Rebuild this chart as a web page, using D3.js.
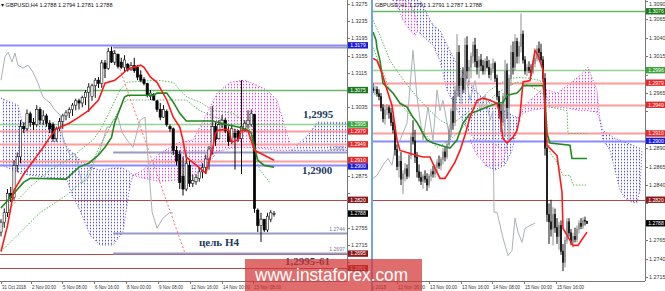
<!DOCTYPE html>
<html><head><meta charset="utf-8">
<script src="https://cdn.jsdelivr.net/npm/d3@7/dist/d3.min.js"></script>
<style>html,body{margin:0;padding:0;background:#fff;}svg{display:block;}</style>
</head><body>
<svg id="chart" width="665" height="291"></svg>
<script>
// ======================= DATA =======================
const h4Title = "GBPUSD,H4  1.2788 1.2794 1.2781 1.2788";
const h1Title = "GBPUSD,H1  1.2791 1.2791 1.2787 1.2788";

// H4 candles [open, high, low, close]
const h4Candles = [
[1.2745,1.2775,1.2735,1.2768],[1.2768,1.2800,1.2755,1.2790],[1.2790,1.2845,1.2780,1.2835],[1.2835,1.2850,1.2815,1.2825],
[1.2825,1.2912,1.2820,1.2900],[1.2900,1.2930,1.2885,1.2920],[1.2920,1.3005,1.2905,1.2990],[1.2990,1.3000,1.2975,1.2985],
[1.2985,1.3030,1.2980,1.3020],[1.3020,1.3025,1.2990,1.3000],[1.3000,1.3010,1.2982,1.2995],[1.2995,1.3040,1.2990,1.3030],
[1.3030,1.3035,1.2995,1.3005],[1.3005,1.3028,1.2994,1.3015],[1.3015,1.3020,1.2990,1.2998],[1.2998,1.3005,1.2975,1.2985],
[1.2995,1.3000,1.2955,1.2962],[1.2962,1.2990,1.2955,1.2985],[1.2985,1.3010,1.2980,1.3002],[1.3002,1.3020,1.2985,1.3015],
[1.3015,1.3028,1.3005,1.3022],[1.3022,1.3035,1.3010,1.3030],[1.3030,1.3045,1.3015,1.3040],[1.3040,1.3055,1.3028,1.3050],
[1.3050,1.3055,1.3030,1.3045],[1.3045,1.3062,1.3035,1.3058],[1.3058,1.3075,1.3040,1.3070],[1.3070,1.3091,1.3024,1.3082],
[1.3060,1.3090,1.3050,1.3085],[1.3085,1.3103,1.3057,1.3098],[1.3098,1.3105,1.3080,1.3090],[1.3090,1.3145,1.3080,1.3138],
[1.3138,1.3145,1.3103,1.3125],[1.3125,1.3173,1.3122,1.3165],[1.3165,1.3176,1.3138,1.3140],[1.3140,1.3168,1.3133,1.3160],
[1.3158,1.3160,1.3125,1.3130],[1.3140,1.3150,1.3124,1.3128],[1.3128,1.3156,1.3118,1.3145],[1.3135,1.3138,1.3118,1.3122],
[1.3122,1.3140,1.3120,1.3132],[1.3132,1.3150,1.3115,1.3120],[1.3128,1.3133,1.3098,1.3105],[1.3110,1.3121,1.3093,1.3098],
[1.3100,1.3105,1.3086,1.3090],[1.3090,1.3092,1.3058,1.3062],[1.3060,1.3075,1.3052,1.3068],[1.3065,1.3068,1.3050,1.3052],
[1.3050,1.3052,1.3024,1.3030],[1.3030,1.3045,1.3005,1.3012],[1.3012,1.3040,1.3010,1.3030],[1.3025,1.3030,1.2990,1.2995],
[1.2990,1.2995,1.2978,1.2985],[1.2985,1.2988,1.2924,1.2935],[1.2935,1.2945,1.2900,1.2910],[1.2925,1.2935,1.2845,1.2860],
[1.2875,1.2920,1.2830,1.2845],[1.2845,1.2925,1.2840,1.2905],[1.2900,1.2910,1.2850,1.2858],[1.2858,1.2878,1.2850,1.2865],
[1.2862,1.2880,1.2855,1.2872],[1.2870,1.2895,1.2862,1.2885],[1.2885,1.2905,1.2870,1.2895],[1.2895,1.2925,1.2880,1.2915],
[1.2915,1.2945,1.2890,1.2938],[1.2938,1.3038,1.2925,1.2990],[1.2990,1.3000,1.2945,1.2960],[1.2962,1.3005,1.2960,1.2995],
[1.2995,1.3017,1.2987,1.3005],[1.3005,1.3010,1.2975,1.2980],[1.2980,1.2990,1.2945,1.2955],[1.2955,1.2995,1.2950,1.2985],
[1.2975,1.2985,1.2890,1.2965],[1.2980,1.2982,1.2955,1.2962],[1.2962,1.3098,1.2880,1.2990],[1.2985,1.3005,1.2978,1.2998],
[1.2995,1.3028,1.2985,1.3005],[1.2995,1.3030,1.2990,1.3020],[1.3018,1.3020,1.2790,1.2800],[1.2796,1.2800,1.2745,1.2760],
[1.2760,1.2790,1.2722,1.2775],[1.2775,1.2775,1.2745,1.2750],[1.2750,1.2790,1.2745,1.2782],[1.2775,1.2796,1.2768,1.2790],
[1.2788,1.2794,1.2781,1.2788]
];
// H4 indicator lines [barIndex, price]
const h4Tenkan = [[0,1.2700],[2,1.2760],[4,1.2842],[7,1.2880],[13,1.2942],[15,1.2965],[17,1.2985],[21,1.2998],[24,1.3012],[27,1.3028],[30,1.3052],[32,1.3091],[35,1.3098],[37,1.3110],[39,1.3124],[43,1.3133],[44,1.3128],[46,1.3105],[48,1.3093],[51,1.3052],[53,1.3012],[55,1.2989],[56,1.2958],[57,1.2919],[59,1.2907],[61,1.2895],[63,1.2882],[65,1.2935],[66,1.2975],[67,1.2982],[70,1.2984],[71,1.2954],[73,1.2960],[74,1.2982],[76,1.2980],[78,1.2935],[84,1.2912]];
const h4Kijun = [[0,1.2801],[7,1.2861],[9,1.2870],[20,1.2868],[24,1.2896],[27,1.2905],[30,1.2924],[32,1.2942],[34,1.2965],[35,1.3000],[38,1.3059],[39,1.3063],[47,1.3063],[48,1.3068],[51,1.3068],[53,1.3047],[55,1.3021],[57,1.3003],[65,1.3003],[70,1.2994],[73,1.2989],[76,1.2982],[77,1.2975],[78,1.2942],[79,1.2912],[81,1.2900],[84,1.2896]];
const h4SpanA = [[0,1.2750],[3,1.2803],[9,1.2850],[15,1.2889],[22,1.2919],[24.3,1.2935],[28.3,1.2959],[30.5,1.2982],[32.6,1.3012],[36.6,1.3075],[38.8,1.3093],[48,1.3098],[53,1.3093],[55,1.3075],[57.2,1.3059],[61.2,1.3047],[65.2,1.3028],[71.4,1.3021],[75.7,1.2998],[77,1.2985],[77.5,1.2935],[79.7,1.2889],[82.8,1.2859]];
const h4SpanB = [[0,1.2700],[6,1.2745],[12,1.2790],[20,1.2830],[26,1.2870],[30.5,1.2947],[37.5,1.3045],[39,1.3052],[57,1.3052],[61,1.3028],[65,1.3015],[70,1.3000]];
const h4Chikou = [[0,1.3098],[1.2,1.3152],[2.2,1.3163],[3.4,1.3140],[4.3,1.3161],[5.2,1.3133],[6.8,1.3126],[8.3,1.3133],[9.8,1.3117],[11.4,1.3091],[12.9,1.3059],[15.1,1.3045],[16.6,1.3028],[18.2,1.3017],[19.1,1.2959],[21.2,1.2924],[22.8,1.2928],[24.9,1.2859],[26.8,1.2870],[28.9,1.2912],[30.5,1.2935],[32.6,1.2989],[33.5,1.2989],[34.5,1.3005],[36,1.3012],[37.2,1.2977],[38.8,1.2959],[40.6,1.2942],[42.8,1.3005],[44.3,1.3012],[44.9,1.2947],[46.5,1.2791],[48,1.2754],[49.8,1.2777],[52,1.2791],[52.9,1.2789]];
// H4 cloud pieces [barIndex, upper, lower]
const h4CloudBlue1 = [[0,1.3056,1.2901],[5.2,1.3040,1.2884],[6.5,1.3000,1.2880],[13.5,1.3000,1.2873],[18.2,1.2982,1.2868],[20.3,1.2942,1.2866],[21.8,1.2931,1.2831],[24.3,1.2912,1.2796],[27.4,1.2896,1.2738],[30.5,1.2889,1.2715],[34.5,1.2894,1.2715],[37.5,1.2894,1.2745],[39.7,1.2884,1.2854],[40.6,1.2877,1.2877]];
const h4CloudPink = [[40.6,1.2877,1.2877],[43.7,1.2889,1.2870],[48.9,1.2928,1.2863],[54.2,1.2952,1.2866],[59.1,1.2959,1.2877],[63.4,1.3021,1.2901],[66.5,1.3068,1.2931],[70.5,1.3093,1.2940],[75.1,1.3098,1.2942],[78.8,1.3086,1.2940],[81.8,1.3075,1.2938],[84.9,1.3052,1.2935],[86.8,1.3005,1.2935],[89.5,1.2935,1.2935]];
const h4CloudBlue2 = [[89.5,1.2935,1.2935],[92,1.2954,1.2935],[95.1,1.2975,1.2935],[97.2,1.3000,1.2935],[106.5,1.3000,1.2935]];
// H4 horizontal levels
const h4Levels = [1.3179, 1.3075, 1.2995, 1.2979, 1.2949, 1.2910, 1.2900, 1.2820, 1.2695, 1.2661];
const h4LevelKinds = ["blue","dkgreen","green","red","red","red","blue","dkred","dkred","dkred"];
const h4FibLevels = [1.3175, 1.2931, 1.2744, 1.2697];
const h4FibLabels = ["", "1.2931", "1.2744", "1.2697"];
const h4FibFrom = 34.5;
const h4TrendLine = [[34.5,1.3168],[56.6,1.2696]];
const h4LastPrice = 1.2788;
const h4PriceTicks = [1.3275,1.3235,1.3195,1.3155,1.3115,1.3075,1.3035,1.2995,1.2955,1.2915,1.2875,1.2835,1.2795,1.2755,1.2715,1.2675];
const h4TimeIdx = [0,9.23,18.77,28.6,38.46,48.3,58.15,68,77.54];
const h4TimeLabels = ["31 Oct 2018","2 Nov 00:00","5 Nov 08:00","6 Nov 16:00","8 Nov 00:00","9 Nov 08:00","12 Nov 16:00","14 Nov 00:00","15 Nov 08:00"];
const h4NoteTexts = ["1,2995","1,2900","цель H4","1,2995-61"];
const h4NoteAnchors = [[92.9,1.3010],[92.6,1.2880],[60.9,1.2712],[87.4,1.2668]];

// H1 candles [open, high, low, close]
const h1Candles = [
[1.2972,1.2978,1.2965,1.2968],[1.2968,1.2975,1.2962,1.2970],[1.2970,1.2974,1.2960,1.2964],[1.2964,1.2970,1.2955,1.2960],
[1.2960,1.2965,1.2940,1.2945],[1.2945,1.2950,1.2925,1.2930],[1.2930,1.2948,1.2922,1.2942],[1.2942,1.2950,1.2935,1.2945],
[1.2945,1.2948,1.2930,1.2938],[1.2938,1.2945,1.2920,1.2925],[1.2925,1.2935,1.2910,1.2915],[1.2915,1.2920,1.2880,1.2888],
[1.2888,1.2895,1.2860,1.2865],[1.2865,1.2880,1.2850,1.2872],[1.2872,1.2885,1.2840,1.2848],[1.2848,1.2860,1.2828,1.2855],
[1.2855,1.2870,1.2845,1.2862],[1.2862,1.2868,1.2848,1.2852],[1.2852,1.2885,1.2850,1.2880],[1.2880,1.2910,1.2875,1.2905],
[1.2905,1.2928,1.2895,1.2900],[1.2900,1.2915,1.2870,1.2878],[1.2878,1.2885,1.2850,1.2858],[1.2858,1.2868,1.2845,1.2850],
[1.2850,1.2858,1.2840,1.2845],[1.2845,1.2855,1.2835,1.2852],[1.2852,1.2860,1.2843,1.2848],[1.2848,1.2856,1.2832,1.2840],
[1.2840,1.2855,1.2836,1.2852],[1.2852,1.2862,1.2845,1.2858],[1.2858,1.2866,1.2850,1.2855],[1.2855,1.2868,1.2850,1.2864],
[1.2864,1.2875,1.2858,1.2870],[1.2870,1.2880,1.2862,1.2866],[1.2866,1.2878,1.2860,1.2875],[1.2875,1.2890,1.2868,1.2885],
[1.2885,1.2892,1.2872,1.2878],[1.2878,1.2900,1.2875,1.2895],[1.2895,1.2920,1.2890,1.2915],[1.2915,1.2945,1.2905,1.2940],
[1.2940,1.2960,1.2915,1.2925],[1.2925,1.2975,1.2920,1.2968],[1.2968,1.3045,1.2960,1.3020],[1.3020,1.3030,1.2960,1.2975],
[1.2975,1.2995,1.2950,1.2985],[1.2985,1.3000,1.2965,1.2970],[1.2970,1.3040,1.2965,1.3030],[1.3030,1.3042,1.2985,1.2995],
[1.2995,1.3010,1.2975,1.3000],[1.3000,1.3020,1.2985,1.3015],[1.3015,1.3035,1.3005,1.3030],[1.3030,1.3040,1.3000,1.3008],
[1.3008,1.3025,1.2990,1.3000],[1.3000,1.3015,1.2985,1.3010],[1.3010,1.3018,1.2995,1.3002],[1.3002,1.3010,1.2990,1.2995],
[1.2995,1.3012,1.2990,1.3008],[1.3008,1.3015,1.2998,1.3000],[1.3000,1.3010,1.2985,1.2990],[1.2990,1.3005,1.2982,1.2998],
[1.2998,1.3012,1.2992,1.3005],[1.3005,1.3008,1.2980,1.2985],[1.2985,1.2990,1.2955,1.2960],[1.2960,1.2968,1.2930,1.2940],
[1.2940,1.2950,1.2912,1.2925],[1.2925,1.2965,1.2920,1.2960],[1.2960,1.3010,1.2905,1.2995],[1.2995,1.3005,1.2930,1.2945],
[1.2945,1.2990,1.2900,1.2985],[1.2985,1.3030,1.2975,1.3020],[1.3020,1.3035,1.2990,1.3000],[1.3000,1.3045,1.2995,1.3035],
[1.3035,1.3040,1.3005,1.3015],[1.3015,1.3035,1.3005,1.3028],[1.3028,1.3073,1.3020,1.3045],[1.3045,1.3050,1.3005,1.3010],
[1.3010,1.3015,1.2990,1.2995],[1.2995,1.3005,1.2988,1.3000],[1.3000,1.3008,1.2992,1.2996],[1.2996,1.3004,1.2988,1.2993],
[1.2993,1.3010,1.2990,1.3005],[1.3005,1.3018,1.3000,1.3012],[1.3012,1.3030,1.3008,1.3025],[1.3025,1.3035,1.3010,1.3020],
[1.3020,1.3032,1.3005,1.3010],[1.3010,1.3015,1.2980,1.2985],[1.2985,1.2992,1.2880,1.2890],[1.2890,1.2895,1.2790,1.2800],
[1.2800,1.2815,1.2760,1.2790],[1.2790,1.2820,1.2770,1.2780],[1.2780,1.2810,1.2758,1.2800],[1.2800,1.2808,1.2775,1.2782],
[1.2782,1.2795,1.2760,1.2770],[1.2770,1.2790,1.2752,1.2785],[1.2785,1.2792,1.2745,1.2750],[1.2750,1.2760,1.2723,1.2735],
[1.2735,1.2770,1.2728,1.2765],[1.2765,1.2795,1.2760,1.2790],[1.2790,1.2795,1.2770,1.2775],[1.2775,1.2780,1.2758,1.2762],
[1.2762,1.2775,1.2755,1.2770],[1.2770,1.2782,1.2762,1.2766],[1.2766,1.2785,1.2762,1.2780],[1.2780,1.2792,1.2774,1.2788],
[1.2788,1.2795,1.2780,1.2784],[1.2784,1.2796,1.2780,1.2792],[1.2792,1.2797,1.2785,1.2791],[1.2791,1.2791,1.2787,1.2788]
];
const h1Tenkan = [[0,1.3012],[2,1.3009],[4.5,1.2992],[6,1.2978],[9.5,1.2948],[12,1.2901],[13.5,1.2887],[19.5,1.2882],[25,1.2878],[28.5,1.2878],[31,1.2863],[33.5,1.2849],[36,1.2849],[38.5,1.2860],[41,1.2871],[43.5,1.2887],[46,1.2908],[48.5,1.2932],[52,1.2955],[55,1.2958],[58.5,1.2955],[62,1.2951],[63.5,1.2935],[65,1.2903],[67,1.2897],[70,1.2905],[72,1.2914],[73.5,1.2935],[75,1.2980],[78.5,1.2982],[81,1.3023],[82.5,1.3016],[85,1.2996],[87,1.2894],[88.5,1.2890],[92,1.2880],[94.5,1.2830],[95,1.2781],[97,1.2772],[100,1.2758],[102.5,1.2758],[105,1.2768],[107,1.2776]];
const h1Kijun = [[0,1.3048],[1.5,1.3037],[2,1.3026],[3.5,1.3009],[5,1.2978],[10,1.2965],[13.5,1.2951],[17,1.2946],[20,1.2932],[22,1.2925],[25,1.2910],[27,1.2901],[30,1.2897],[38.5,1.2890],[42,1.2901],[45,1.2924],[48.5,1.2937],[53.5,1.2942],[57,1.2946],[62,1.2951],[65,1.2952],[67,1.2962],[72,1.2965],[73.5,1.2969],[75,1.2975],[85,1.2975],[86,1.2955],[87,1.2910],[88.5,1.2897],[98.5,1.2894],[99.5,1.2876],[107,1.2876]];
const h1SpanA = [[0,1.3064],[3.5,1.3043],[8.5,1.3009],[13.5,1.2989],[18.5,1.2971],[23.5,1.2955],[28.5,1.2941],[33.5,1.2928],[38.5,1.2921],[43.5,1.2931],[48.5,1.2941],[53.5,1.2955],[58.5,1.2969],[63.5,1.2978],[68.5,1.2985],[73.5,1.2986],[78.5,1.2985],[83.5,1.2982],[86,1.2969],[88.5,1.2946],[97,1.2941],[97.5,1.2910],[107,1.2910]];
const h1SpanB = [[0,1.3027],[3.5,1.3003],[8.5,1.2969],[15,1.2946],[21,1.2928],[28.5,1.2901],[32,1.2891],[38.5,1.2901],[43.5,1.2914],[48.5,1.2932],[55,1.2946],[62,1.2965],[68.5,1.2975],[72,1.2980],[78.5,1.2975],[86,1.2962],[87.5,1.2901],[88.5,1.2884],[92,1.2871],[95,1.2853],[98.5,1.2853],[100,1.2840],[107,1.2840]];
const h1Chikou = [[0,1.2849],[2,1.2853],[5,1.2867],[7.5,1.2876],[9.5,1.2867],[11,1.2890],[13.5,1.2901],[17,1.2924],[20,1.3023],[22,1.2959],[25,1.2901],[27.5,1.2946],[30,1.2901],[32,1.2969],[33.5,1.2941],[35,1.2955],[38.5,1.2901],[41,1.2948],[43.5,1.2982],[46,1.2996],[48.5,1.2955],[51,1.2982],[53.5,1.2941],[56,1.2962],[58.5,1.2928],[60,1.2941],[60.5,1.2803],[62,1.2803],[65,1.2768],[67.5,1.2744],[69.5,1.2751],[71,1.2795],[72.5,1.2776],[74.5,1.2762],[76,1.2781],[78.5,1.2785],[81,1.2788]];
const h1CloudBlue1 = [[10,1.3091,1.3091],[13.5,1.3118,1.3077],[18.5,1.3105,1.3057],[23.5,1.3091,1.3046],[30,1.3057,1.3030],[33.5,1.3050,1.3009],[37,1.3030,1.2969],[41,1.3009,1.2948],[46,1.2989,1.2921],[51,1.2969,1.2901],[56,1.2955,1.2867],[61,1.2948,1.2860],[66,1.2941,1.2867],[69.5,1.2935,1.2887],[72.5,1.2931,1.2921],[73.5,1.2928,1.2928]];
const h1CloudPink0 = [[12,1.3091,1.3084],[15,1.3091,1.3064],[18.5,1.3087,1.3050],[21,1.3071,1.3043],[22.5,1.3050,1.3050]];
const h1CloudPink1 = [[48.5,1.2901,1.2901],[52,1.2901,1.2880],[57,1.2901,1.2867],[62,1.2894,1.2867],[65,1.2887,1.2870],[67,1.2894,1.2894]];
const h1CloudPink2 = [[72.5,1.2931,1.2931],[76,1.2948,1.2939],[78.5,1.2955,1.2941],[85,1.2971,1.2944],[92,1.2965,1.2946],[98.5,1.2978,1.2944],[103.5,1.2989,1.2941],[107.5,1.3000,1.2941],[112,1.2969,1.2939],[113.5,1.2928,1.2928]];
const h1CloudBlue2 = [[113.5,1.2928,1.2928],[115,1.2914,1.2901],[118.5,1.2908,1.2887],[121,1.2903,1.2860],[123.5,1.2901,1.2833],[126,1.2898,1.2822],[130,1.2894,1.2816],[132,1.2891,1.2816],[133.5,1.2890,1.2833],[134.5,1.2889,1.2889]];
const h1Levels = [1.3076, 1.2996, 1.2979, 1.2949, 1.2910, 1.2900, 1.2820];
const h1LevelKinds = ["dkgreen","green","red","red","red","blue","dkred"];
const h1LastPrice = 1.2788;
const h1PriceTicks = [1.3090,1.3065,1.3040,1.3015,1.2990,1.2965,1.2940,1.2915,1.2890,1.2865,1.2840,1.2815,1.2790,1.2765,1.2740,1.2715];
const h1TimeIdx = [-6,12,28,44,59.5,75.5,91.5];
const h1TimeLabels = ["9 Nov 2018","12 Nov 08:00","13 Nov 00:00","13 Nov 16:00","14 Nov 08:00","15 Nov 00:00","15 Nov 16:00"];
const watermarkText = "www.instaforex.com";

// ======================= STYLE =======================
const tagFill = {blue:'#1c1cd8', dkgreen:'#1b7a1b', green:'#3aa63a', red:'#e42a2a', dkred:'#8c1a1a', black:'#000000'};
const lineStroke = {blue:'#8a8aff', dkgreen:'#68b868', green:'#93d293', red:'#ff9c9c', dkred:'#b34848'};
const lineWidth = {blue:2, dkgreen:1.3, green:1.6, red:2, dkred:1};
const AX_FONT = "'Liberation Sans', Arial, sans-serif";
const TAG_H = 6.4;

const svg = d3.select('#chart');
const defs = svg.append('defs');
function dotPattern(id, color){
  const p = defs.append('pattern').attr('id',id).attr('width',3).attr('height',3).attr('patternUnits','userSpaceOnUse');
  p.append('rect').attr('x',0).attr('y',0).attr('width',1).attr('height',1).attr('fill',color);
  p.append('rect').attr('x',0).attr('y',1.5).attr('width',1).attr('height',0.8).attr('fill',color).attr('opacity',0.6);
}
dotPattern('pinkDots','#e53be5');
dotPattern('blueDots','#5050f0');
defs.append('clipPath').attr('id','clipL').append('rect').attr('x',0).attr('y',0).attr('width',347).attr('height',281);
defs.append('clipPath').attr('id','clipR').append('rect').attr('x',373).attr('y',0).attr('width',272).attr('height',281);
defs.append('clipPath').attr('id','clipRAxis').append('rect').attr('x',373).attr('y',281).attr('width',272).attr('height',10);

function drawPanel(cfg){
  const {x, y, clip, candles, tenkan, kijun, spanA, spanB, chikou, clouds, levels, kinds,
         plotLeft, plotRight, bw, bullFill, bullStroke, bearColor} = cfg;
  const g = svg.append('g').attr('clip-path', `url(#${clip})`);
  const area = d3.area().x(d=>x(d[0])).y0(d=>y(d[2])).y1(d=>y(d[1]));
  const top = d3.line().x(d=>x(d[0])).y(d=>y(d[1]));
  const bot = d3.line().x(d=>x(d[0])).y(d=>y(d[2]));
  clouds.forEach(c=>{
    g.append('path').attr('d', area(c.data)).attr('fill','#fff');
    g.append('path').attr('d', area(c.data)).attr('fill', c.pink ? 'url(#pinkDots)' : 'url(#blueDots)');
    const col = c.pink ? '#d040e0' : '#6a4af0';
    g.append('path').attr('d', top(c.data)).attr('fill','none').attr('stroke',col).attr('stroke-width',1).attr('stroke-dasharray','1,2');
    g.append('path').attr('d', bot(c.data)).attr('fill','none').attr('stroke',col).attr('stroke-width',1).attr('stroke-dasharray','1,2');
  });
  g.selectAll('line.lvl').data(levels.map((p,i)=>({p,k:kinds[i]}))).join('line')
    .attr('x1',plotLeft).attr('x2',plotRight)
    .attr('y1',d=>Math.round(y(d.p))+0.5).attr('y2',d=>Math.round(y(d.p))+0.5)
    .attr('stroke',d=>lineStroke[d.k]).attr('stroke-width',d=>lineWidth[d.k]);
  if (cfg.extra) cfg.extra(g);
  const line = d3.line().x(d=>x(d[0])).y(d=>y(d[1]));
  g.append('path').attr('d', line(chikou)).attr('fill','none').attr('stroke','#a9b1bb').attr('stroke-width',1);
  g.append('path').attr('d', line(spanA)).attr('fill','none').attr('stroke','#5cb85c').attr('stroke-width',1).attr('stroke-dasharray','1.5,1.5');
  g.append('path').attr('d', line(spanB)).attr('fill','none').attr('stroke','#5cb85c').attr('stroke-width',1).attr('stroke-dasharray','1.5,1.5');
  const cd = candles.map((d,i)=>({i,o:d[0],h:d[1],l:d[2],c:d[3],up:d[3]>=d[0]}));
  const cg = g.append('g');
  cg.selectAll('line').data(cd).join('line')
    .attr('x1',d=>x(d.i)).attr('x2',d=>x(d.i)).attr('y1',d=>y(d.h)).attr('y2',d=>y(d.l))
    .attr('stroke',d=>d.up?bullStroke:bearColor).attr('stroke-width',1);
  cg.selectAll('rect').data(cd).join('rect')
    .attr('x',d=>x(d.i)-bw/2).attr('width',bw)
    .attr('y',d=>y(Math.max(d.o,d.c))).attr('height',d=>Math.max(0.8,Math.abs(y(d.o)-y(d.c))))
    .attr('fill',d=>d.up?bullFill:bearColor).attr('stroke',d=>d.up?bullStroke:bearColor).attr('stroke-width',0.6);
  g.append('path').attr('d', line(kijun)).attr('fill','none').attr('stroke','#1f8a1f').attr('stroke-width',1.6);
  g.append('path').attr('d', line(tenkan)).attr('fill','none').attr('stroke','#ff1a1a').attr('stroke-width',1.6);
  return g;
}

// ---------- LEFT PANEL (H4) ----------
const xL = d3.scaleLinear().domain([0,106.46]).range([1,347]);
const yL = d3.scaleLinear().domain([1.3275,1.2715]).range([4,245]);
drawPanel({x:xL, y:yL, clip:'clipL', candles:h4Candles, tenkan:h4Tenkan, kijun:h4Kijun, spanA:h4SpanA, spanB:h4SpanB, chikou:h4Chikou,
  clouds:[{data:h4CloudBlue1,pink:false},{data:h4CloudPink,pink:true},{data:h4CloudBlue2,pink:false}],
  levels:h4Levels, kinds:h4LevelKinds, plotLeft:0, plotRight:347, bw:2.3, bullFill:'#fff', bullStroke:'#111', bearColor:'#000',
  extra:(g)=>{
    g.selectAll('line.fib').data(h4FibLevels).join('line')
      .attr('x1',xL(h4FibFrom)).attr('x2',347)
      .attr('y1',d=>Math.round(yL(d))+0.5).attr('y2',d=>Math.round(yL(d))+0.5)
      .attr('stroke','#9a9ac4').attr('stroke-width',2);
    g.selectAll('text.fib').data(h4FibLevels).join('text')
      .attr('x',345).attr('y',d=>yL(d)-2).attr('text-anchor','end')
      .attr('font-family',AX_FONT).attr('font-size',5.2).attr('fill','#7a7aa0')
      .text((d,i)=>h4FibLabels[i]);
    const tl = d3.line().x(d=>xL(d[0])).y(d=>yL(d[1]));
    g.append('path').attr('d',tl(h4TrendLine)).attr('fill','none').attr('stroke','#ff6a6a').attr('stroke-width',1).attr('stroke-dasharray','2,2');
  }});

// ---------- RIGHT PANEL (H1) ----------
const xR = d3.scaleLinear().domain([0,135.5]).range([373,644]);
const yR = d3.scaleLinear().domain([1.3090,1.2715]).range([1,277]);
drawPanel({x:xR, y:yR, clip:'clipR', candles:h1Candles, tenkan:h1Tenkan, kijun:h1Kijun, spanA:h1SpanA, spanB:h1SpanB, chikou:h1Chikou,
  clouds:[{data:h1CloudBlue1,pink:false},{data:h1CloudPink0,pink:true},{data:h1CloudPink1,pink:true},{data:h1CloudPink2,pink:true},{data:h1CloudBlue2,pink:false}],
  levels:h1Levels, kinds:h1LevelKinds, plotLeft:373, plotRight:645, bw:1.3, bullFill:'#8e8e8e', bullStroke:'#8e8e8e', bearColor:'#111'});

// ---------- AXES ----------
function priceAxis(y, ticks, x0, tags, lastPrice){
  const g = svg.append('g');
  const all = tags.concat([{p:lastPrice,k:'black'}]).map(d=>({...d, ty:y(d.p)}));
  // spread overlapping tags apart (as the terminal does)
  all.sort((a,b)=>a.ty-b.ty);
  for (let pass=0; pass<4; pass++){
    for (let i=1;i<all.length;i++){
      const gap = all[i].ty - all[i-1].ty;
      if (gap < TAG_H){ const s=(TAG_H-gap)/2; all[i-1].ty-=s; all[i].ty+=s; }
    }
  }
  const freeTicks = ticks.filter(t=>all.every(d=>Math.abs(d.ty-y(t))>6.8));
  g.append('line').attr('x1',x0+0.5).attr('x2',x0+0.5).attr('y1',0).attr('y2',281).attr('stroke','#777').attr('stroke-width',1);
  g.selectAll('line.t').data(ticks).join('line').attr('x1',x0).attr('x2',x0+3)
    .attr('y1',d=>Math.round(y(d))+0.5).attr('y2',d=>Math.round(y(d))+0.5).attr('stroke','#777');
  g.selectAll('text.t').data(freeTicks).join('text').attr('x',x0+4).attr('y',d=>Math.max(6,y(d)+2))
    .attr('font-family',AX_FONT).attr('font-size',5.4).attr('fill','#333').text(d=>d.toFixed(4));
  const tg = g.selectAll('g.tag').data(all).join('g').attr('transform',d=>`translate(${x0+1},${d.ty})`);
  tg.append('rect').attr('x',0).attr('y',-TAG_H/2).attr('width',20).attr('height',TAG_H).attr('fill',d=>tagFill[d.k]);
  tg.append('text').attr('x',10).attr('y',1.8).attr('text-anchor','middle').attr('font-family',AX_FONT)
    .attr('font-size',5.1).attr('fill','#fff').text(d=>d.p.toFixed(4));
}
priceAxis(yL, h4PriceTicks, 347, h4Levels.map((p,i)=>({p,k:h4LevelKinds[i]})), h4LastPrice);
priceAxis(yR, h1PriceTicks, 645, h1Levels.map((p,i)=>({p,k:h1LevelKinds[i]})), h1LastPrice);

function timeAxis(x, idx, labels, x0, x1, clip){
  const g = svg.append('g');
  g.append('line').attr('x1',x0).attr('x2',x1).attr('y1',281.5).attr('y2',281.5).attr('stroke','#777');
  const lg = g.append('g'); if (clip) lg.attr('clip-path',`url(#${clip})`);
  lg.selectAll('line').data(idx).join('line').attr('x1',d=>Math.round(x(d))+0.5).attr('x2',d=>Math.round(x(d))+0.5)
    .attr('y1',281).attr('y2',284).attr('stroke','#777');
  lg.selectAll('text').data(idx).join('text').attr('x',d=>x(d)+1).attr('y',288.5)
    .attr('font-family',AX_FONT).attr('font-size',5.2).attr('fill','#333')
    .attr('textLength',(d,i)=>labels[i].length>11?27:24).attr('lengthAdjust','spacingAndGlyphs')
    .text((d,i)=>labels[i]);
}
timeAxis(xL, h4TimeIdx, h4TimeLabels, 0, 347, null);
timeAxis(xR, h1TimeIdx, h1TimeLabels, 373, 645, 'clipRAxis');

// panel separator
svg.append('line').attr('x1',372).attr('x2',372).attr('y1',0).attr('y2',291).attr('stroke','#6fa6de').attr('stroke-width',2);

// titles
svg.append('text').attr('x',1).attr('y',7).attr('font-family',AX_FONT).attr('font-size',5.6).attr('fill','#111').text('\u25BE ' + h4Title);
svg.append('text').attr('x',375).attr('y',7).attr('font-family',AX_FONT).attr('font-size',5.6).attr('fill','#111').text(h1Title);

// annotations
svg.selectAll('text.note').data(h4NoteTexts).join('text')
  .attr('x',(d,i)=>xL(h4NoteAnchors[i][0])).attr('y',(d,i)=>yL(h4NoteAnchors[i][1]))
  .attr('font-family',"'Liberation Serif','Times New Roman',serif").attr('font-weight','bold')
  .attr('font-size',11).attr('fill','#22395c').text(d=>d);

// watermark
svg.append('rect').attr('x',245).attr('y',259).attr('width',177).attr('height',32).attr('fill','rgba(212,52,52,0.72)');
svg.append('text').attr('x',255).attr('y',281).attr('font-family',AX_FONT).attr('font-size',19)
  .attr('textLength',153).attr('lengthAdjust','spacingAndGlyphs').attr('fill','#fff').text(watermarkText);
</script>
</body></html>
